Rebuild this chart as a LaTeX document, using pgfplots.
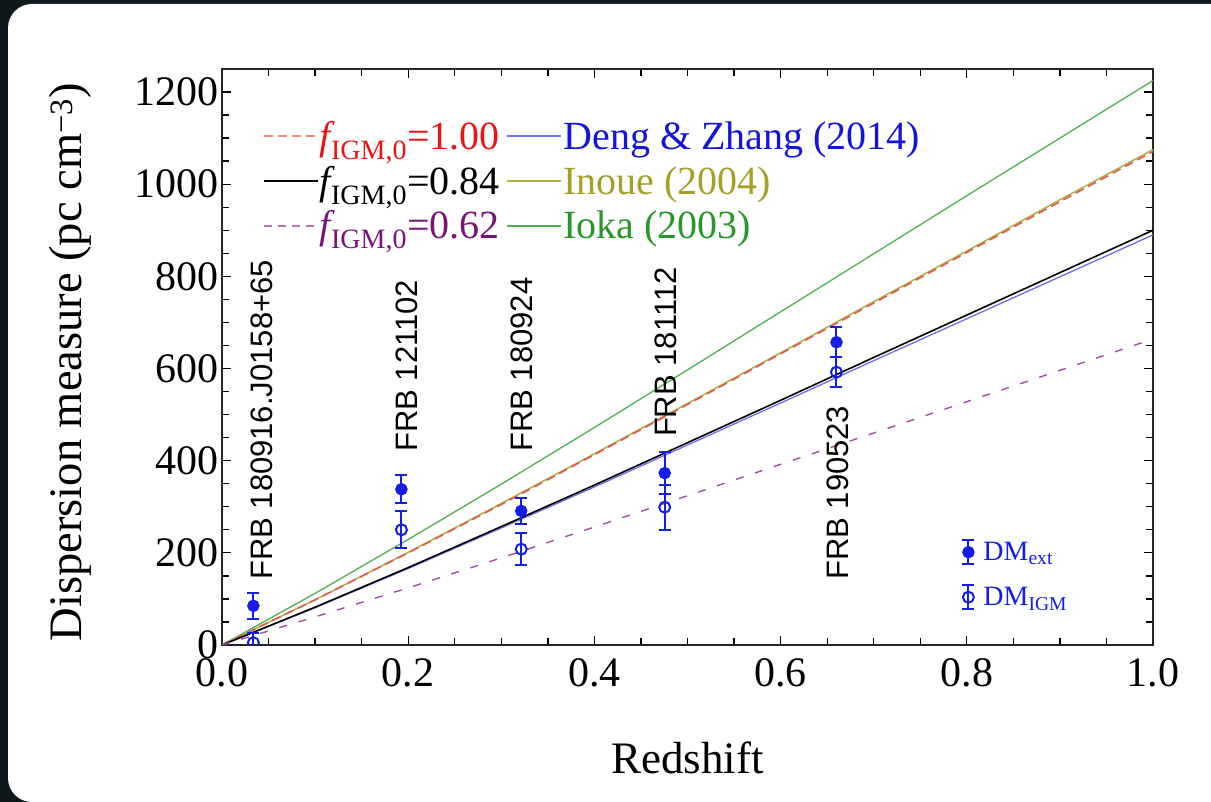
\documentclass[border=0pt]{standalone}
\usepackage{fontspec}
\setmainfont{Liberation Serif}
\newfontfamily\labelsans{Liberation Sans}
\usepackage{pgfplots}
\pgfplotsset{compat=1.18}
\usepackage{pgfplotstable}

\definecolor{bgdark}{RGB}{14,25,27}
\definecolor{ptblue}{RGB}{20,30,230}
\definecolor{linered}{RGB}{225,90,80}
\definecolor{linepurple}{RGB}{160,80,160}
\definecolor{lineblue}{RGB}{110,110,235}
\definecolor{lineolive}{RGB}{175,175,70}
\definecolor{linegreen}{RGB}{80,175,80}
\definecolor{txtred}{RGB}{235,20,20}
\definecolor{txtpurple}{RGB}{120,20,120}
\definecolor{txtblue}{RGB}{20,20,220}
\definecolor{txtolive}{RGB}{165,160,40}
\definecolor{txtgreen}{RGB}{40,150,40}

% DM_IGM(z) model curves
\pgfplotstableread{
z    f100  f084  f062  deng  inoue  ioka
0.0  0     0     0     0     0      0
0.1  98    82    61    81    98     112
0.2  200   168   124   166   201    229
0.3  305   257   189   254   307    349
0.4  413   347   256   343   415    472
0.5  522   439   324   434   524    597
0.6  632   531   392   525   634    723
0.7  742   624   460   617   745    849
0.8  852   716   528   708   855    975
0.9  962   808   596   799   966    1100
1.0  1071  900   664   890   1075   1225
}\models

% localized FRBs: extragalactic DM and IGM contribution
\pgfplotstableread{
z       ext  eext  igm  eigm
0.0337  85   28    5    20
0.19273 338  30    250  40
0.3214  291  28    208  35
0.4755  373  45    299  49
0.66    657  32    592  32
}\frbs

\pgfplotsset{
  frame/.style={
    at={(222pt,157pt)}, anchor=south west,
    scale only axis, width=931pt, height=576pt,
    xmin=0, xmax=1, ymin=0, ymax=1250,
  },
}

\begin{document}
\begin{tikzpicture}[x=1pt,y=1pt]
\useasboundingbox (0,0) rectangle (1211,802);
\fill[bgdark] (0,0) rectangle (1211,802);
\fill[white, rounded corners=24pt] (8,0) rectangle (1240,798);

\begin{axis}[
  frame,
  xtick={0,0.2,0.4,0.6,0.8,1.0},
  xticklabels={0.0,0.2,0.4,0.6,0.8,1.0},
  ytick={0,200,400,600,800,1000,1200},
  yticklabels={0,200,400,600,800,1000,1200},
  minor x tick num=3, minor y tick num=3,
  axis line style={line width=1.8pt, black!85},
  every tick/.style={line width=1.3pt, black},
  major tick length=9pt, minor tick length=7pt,
  tick label style={font=\fontsize{42}{42}\selectfont},
  xticklabel style={yshift=-10pt},
  xlabel={Redshift},
  ylabel={Dispersion measure (pc cm\textsuperscript{−3})},
  xlabel style={font=\fontsize{45}{45}\selectfont,
    at={(axis description cs:0.5,-0.196)}, anchor=center},
  ylabel style={font=\fontsize{46.5}{46.5}\selectfont,
    at={(axis description cs:-0.163,0.491)}, anchor=center},
  legend columns=2,
  legend cell align=left,
  legend style={draw=none, fill=none, at={(0.044,0.911)}, anchor=north west,
    font=\fontsize{40}{44}\selectfont, inner sep=0pt, row sep=13pt,
    nodes={inner sep=1pt},
    /tikz/every even column/.append style={column sep=6pt}},
  legend image code/.code={\draw[#1] (0pt,0pt) -- (54pt,0pt);},
]
% model curves
\addplot[linegreen, line width=1.3pt, forget plot] table[x=z, y=ioka] {\models};
\addplot[lineolive, line width=1.5pt, forget plot] table[x=z, y=inoue] {\models};
\addplot[linered, line width=1.6pt, dash pattern=on 9pt off 5pt, forget plot] table[x=z, y=f100] {\models};
\addplot[lineblue, line width=1.3pt, forget plot] table[x=z, y=deng] {\models};
\addplot[black, line width=1.6pt, forget plot] table[x=z, y=f084] {\models};
\addplot[linepurple, line width=1.4pt, dash pattern=on 8pt off 12pt, forget plot] table[x=z, y=f062] {\models};

\addlegendimage{color=linered!70, line width=1.8pt, dash pattern=on 9pt off 5pt}
\addlegendentry{\textcolor{txtred}{{\itshape f}\textsubscript{IGM,0}=1.00}}
\addlegendimage{color=lineblue, line width=1.8pt}
\addlegendentry{\textcolor{txtblue}{Deng \& Zhang (2014)}}
\addlegendimage{color=black, line width=1.8pt}
\addlegendentry{\textcolor{black}{{\itshape f}\textsubscript{IGM,0}=0.84}}
\addlegendimage{color=lineolive, line width=1.8pt}
\addlegendentry{\textcolor{txtolive}{Inoue (2004)}}
\addlegendimage{color=linepurple!80, line width=1.8pt, dash pattern=on 8pt off 6pt}
\addlegendentry{\textcolor{txtpurple}{{\itshape f}\textsubscript{IGM,0}=0.62}}
\addlegendimage{color=linegreen, line width=1.8pt}
\addlegendentry{\textcolor{txtgreen}{Ioka (2003)}}

% burst names
\begin{scope}[every node/.style={rotate=90, anchor=west, inner sep=0pt,
    font=\labelsans\fontsize{31}{31}\selectfont}]
\node at (axis cs:0.043,141) {FRB 180916.J0158+65};
\node at (axis cs:0.199,419) {FRB 121102};
\node at (axis cs:0.322,419) {FRB 180924};
\node at (axis cs:0.477,451) {FRB 181112};
\node at (axis cs:0.662,141) {FRB 190523};
\end{scope}
\end{axis}

\begin{axis}[
  frame,
  hide axis,
  clip marker paths=true,
  legend cell align=left,
  legend style={draw=none, fill=none, at={(0.794,0.184)}, anchor=north west,
    font=\fontsize{28}{30}\selectfont, inner sep=0pt, row sep=19pt,
    nodes={inner sep=2pt},
    /tikz/every odd column/.append style={column sep=6pt}},
  legend image code/.code={
    \draw[ptblue, line width=2pt] (0pt,-12pt) -- (0pt,12pt)
      (-6pt,-12pt) -- (6pt,-12pt) (-6pt,12pt) -- (6pt,12pt);
    \draw[#1] plot coordinates {(0pt,0pt)};
  },
]
\addplot[ptblue, only marks, mark=*, mark size=5.5pt,
  mark options={fill=ptblue, line width=1.5pt},
  error bars/.cd, y dir=both, y explicit,
  error bar style={line width=2pt, ptblue},
  error mark options={rotate=90, mark size=6pt, line width=2pt, ptblue}]
  table[x=z, y=ext, y error=eext] {\frbs};
\addlegendentry{\textcolor{ptblue}{DM\textsubscript{ext}}}
\addplot[ptblue, only marks, mark=o, mark size=5.5pt,
  mark options={line width=2pt},
  error bars/.cd, y dir=both, y explicit,
  error bar style={line width=2pt, ptblue},
  error mark options={rotate=90, mark size=6pt, line width=2pt, ptblue}]
  table[x=z, y=igm, y error=eigm] {\frbs};
\addlegendentry{\textcolor{ptblue}{DM\textsubscript{IGM}}}
\end{axis}
\end{tikzpicture}
\end{document}
